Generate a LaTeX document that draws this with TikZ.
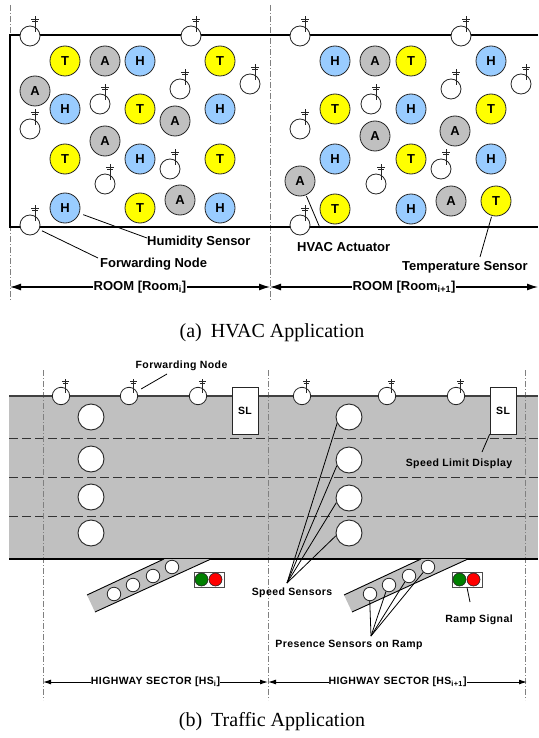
\documentclass[tikz,border=0pt]{standalone}
\usepackage{fontspec}
\setmainfont{Liberation Sans}
\newfontfamily\capfont{Liberation Serif}
\newfontfamily\lblfont[LetterSpace=4]{Liberation Sans}
\usetikzlibrary{arrows.meta,calc}
\definecolor{tyel}{HTML}{FFFF00}
\definecolor{hblue}{HTML}{99CCFF}
\definecolor{agray}{HTML}{C0C0C0}
\definecolor{road}{HTML}{C0C0C0}
\definecolor{sgreen}{HTML}{008000}
\definecolor{sred}{HTML}{FF0000}
\newcommand\fwdn[4]{%
  \node[fwdc, minimum size={20pt*#4}] (#1) at (#2,#3) {};
  \draw[ant] ([shift={({5*#4},{-4*#4})}]#1.center) -- ++(0,{-16*#4});
  \draw[ant] ([shift={({1*#4},{-17*#4})}]#1.center) -- ++({8*#4},0);
  \draw[ant] ([shift={({2*#4},{-14.5*#4})}]#1.center) -- ++({6*#4},0);
}
\begin{document}
\begin{tikzpicture}[x=1pt,y=-1pt,
  sensor/.style={circle, draw=black!85, line width=0.8pt, minimum size=30pt, inner sep=0pt, font={\bfseries\fontsize{13}{13}\selectfont}},
  tsens/.style={sensor, fill=tyel},
  hsens/.style={sensor, fill=hblue},
  asens/.style={sensor, fill=agray},
  fwdc/.style={circle, draw=black!85, fill=white, line width=0.8pt, inner sep=0pt},
  ant/.style={line width=0.8pt, black!85},
  sectline/.style={dash pattern=on 6pt off 2pt on 1pt off 2pt, gray, line width=0.7pt},
  lbl/.style={font={\bfseries\fontsize{13}{13}\selectfont}, inner sep=0pt, anchor=west},
  tlbl/.style={font={\lblfont\bfseries\fontsize{10.5}{10.5}\selectfont}, inner sep=0pt},
  lead/.style={line width=0.8pt},
  dimarrow/.style={line width=1.2pt, {Latex[length=11pt,width=7pt]}-{Latex[length=11pt,width=7pt]}},
  dimarrowb/.style={line width=1pt, {Latex[length=8pt,width=5pt]}-{Latex[length=8pt,width=5pt]}},
  lanedash/.style={dash pattern=on 9pt off 4pt, line width=0.8pt, black!80},
  ssens/.style={circle, draw=black!85, fill=white, line width=0.9pt, minimum size=26pt, inner sep=0pt},
  rsens/.style={circle, draw=black!85, fill=white, line width=0.8pt, minimum size=13.5pt, inner sep=0pt},
  slbox/.style={draw=black!85, fill=white, line width=0.8pt, minimum width=26pt, minimum height=47pt, inner sep=0pt, font={\lblfont\bfseries\fontsize{10.5}{10.5}\selectfont}},
  sigbox/.style={draw=black!70, fill=white, line width=0.8pt, minimum width=30pt, minimum height=15pt, inner sep=0pt},
  light/.style={circle, draw=black!85, line width=0.6pt, minimum size=13pt, inner sep=0pt},
  ramp/.style={fill=road},
  rampedge/.style={line width=0.9pt, black}
]
\useasboundingbox (0,0) rectangle (538,738);

% ================= HVAC =================
\coordinate (vl1) at (10,5); \coordinate (vl1b) at (10,300);
\coordinate (vl2) at (270,5); \coordinate (vl2b) at (270,300);
\draw[sectline] (vl1) -- (vl1b);
\draw[sectline] (vl2) -- (vl2b);
\coordinate (rTR) at (538,35); \coordinate (rTL) at (10,35);
\coordinate (rBL) at (10,227); \coordinate (rBR) at (538,227);
\draw[line width=1.2pt] (rTR) -- (rTL) -- (rBL) -- (rBR);

% left room
\fwdn{fa1}{30}{36}{1}
\fwdn{fa2}{191}{36}{1}
\node[tsens] (la1) at (65,61) {T};
\node[asens] (la2) at (105,61) {A};
\node[hsens] (la3) at (140,61) {H};
\node[tsens] (la4) at (220,61) {T};
\node[asens] (la5) at (35,91) {A};
\fwdn{fa3}{180}{89}{1}
\fwdn{fa4}{250}{84}{1}
\node[hsens] (la6) at (65,109) {H};
\fwdn{fa5}{100}{104}{1}
\node[tsens] (la7) at (140,109) {T};
\node[asens] (la8) at (175,121) {A};
\node[hsens] (la9) at (220,109) {H};
\fwdn{fa6}{30}{129}{1}
\node[asens] (la10) at (105,141) {A};
\node[tsens] (la11) at (65,159) {T};
\node[hsens] (la12) at (140,159) {H};
\fwdn{fa7}{170}{169}{1}
\node[tsens] (la13) at (220,159) {T};
\fwdn{fa8}{105}{184}{1}
\node[hsens] (la14) at (65,208) {H};
\node[tsens] (la15) at (140,208) {T};
\node[asens] (la16) at (180,200) {A};
\node[hsens] (la17) at (220,208) {H};
\fwdn{fa9}{30}{225}{1}

% right room
\fwdn{fb1}{300}{36}{1}
\fwdn{fb2}{461}{36}{1}
\node[hsens] (lb1) at (335,61) {H};
\node[asens] (lb2) at (375,61) {A};
\node[tsens] (lb3) at (411,61) {T};
\node[hsens] (lb4) at (491,61) {H};
\fwdn{fb3}{451}{89}{1}
\fwdn{fb4}{521}{84}{1}
\node[tsens] (lb5) at (335,109) {T};
\fwdn{fb5}{371}{104}{1}
\node[hsens] (lb6) at (411,109) {H};
\node[tsens] (lb7) at (491,109) {T};
\fwdn{fb6}{300}{129}{1}
\node[asens] (lb8) at (375,136) {A};
\node[asens] (lb9) at (455,131) {A};
\node[hsens] (lb10) at (335,159) {H};
\node[tsens] (lb11) at (411,159) {T};
\fwdn{fb7}{441}{169}{1}
\node[hsens] (lb12) at (491,159) {H};
\node[asens] (lb13) at (300,181) {A};
\fwdn{fb8}{376}{184}{1}
\node[tsens] (lb14) at (335,209) {T};
\node[hsens] (lb15) at (411,209) {H};
\node[asens] (lb16) at (451,201) {A};
\node[tsens] (lb17) at (496,201) {T};
\fwdn{fb9}{300}{225}{1}

% labels
\node[lbl] (tHum) at (147,242) {Humidity Sensor};
\coordinate (cHum) at (147,238);
\draw[lead, shorten <=4pt] (la14) -- (cHum);
\node[lbl] (tFwd) at (100,264) {Forwarding Node};
\coordinate (cFwd) at (98,258);
\draw[lead, shorten <=3pt] (fa9) -- (cFwd);
\node[lbl] (tAct) at (297,247) {HVAC Actuator};
\coordinate (cAct) at (320,228);
\draw[lead, shorten <=1pt] (lb13) -- (cAct);
\node[lbl] (tTmp) at (402,267) {Temperature Sensor};
\coordinate (cTmp) at (480,257);
\draw[lead, shorten <=1pt] (lb17) -- (cTmp);

% room arrows
\coordinate (ra1) at (10,287); \coordinate (ra2) at (270,287); \coordinate (ra3) at (538,287);
\draw[dimarrow] (ra1) -- node[fill=white, inner sep=1pt, font={\bfseries\fontsize{13}{13}\selectfont}] (tR1) {ROOM [Room\textsubscript{i}]} (ra2);
\draw[dimarrow] (ra2) -- node[fill=white, inner sep=1pt, font={\bfseries\fontsize{13}{13}\selectfont}] (tR2) {ROOM [Room\textsubscript{i+1}]} (ra3);

\node[font={\capfont\fontsize{20}{20}\selectfont}] (capA) at (272,333) {(a)\hspace{0.45em}HVAC Application};

% ================= TRAFFIC =================
\fill[road] (9,396) rectangle (538,559);
\foreach \yy/\nm in {438/d1,477/d2,516/d3} {
  \coordinate (\nm a) at (9,\yy); \coordinate (\nm b) at (538,\yy);
  \draw[lanedash] (\nm a) -- (\nm b);
}
\coordinate (hv1) at (43,370); \coordinate (hv1b) at (43,700);
\coordinate (hv2) at (268,370); \coordinate (hv2b) at (268,700);
\coordinate (hv3) at (525,370); \coordinate (hv3b) at (525,700);
\draw[sectline] (hv1) -- (hv1b);
\draw[sectline] (hv2) -- (hv2b);
\draw[sectline] (hv3) -- (hv3b);
\coordinate (rdTL) at (9,396); \coordinate (rdTR) at (538,396);
\coordinate (rdBL) at (9,559); \coordinate (rdBR) at (538,559);
\draw[line width=1.3pt, black!75] (rdTL) -- (rdTR);
\draw[line width=1.3pt] (rdBL) -- (rdBR);

% ramps
\coordinate (p1a) at (87,595); \coordinate (p1b) at (164,559);
\coordinate (p1c) at (211,559); \coordinate (p1d) at (95,612);
\fill[ramp] (p1a) -- (p1b) -- (p1c) -- (p1d) -- cycle;
\draw[rampedge] (p1a) -- (p1b);
\draw[rampedge] (p1d) -- (p1c);
\coordinate (p2a) at (344,595); \coordinate (p2b) at (421,559);
\coordinate (p2c) at (468,559); \coordinate (p2d) at (352,612);
\fill[ramp] (p2a) -- (p2b) -- (p2c) -- (p2d) -- cycle;
\draw[rampedge] (p2a) -- (p2b);
\draw[rampedge] (p2d) -- (p2c);

\node[rsens] (r1) at (114,594) {};
\node[rsens] (r2) at (133,585) {};
\node[rsens] (r3) at (153,576) {};
\node[rsens] (r4) at (172,567) {};
\node[rsens] (r5) at (370,594) {};
\node[rsens] (r6) at (389,585) {};
\node[rsens] (r7) at (409,576) {};
\node[rsens] (r8) at (428,567) {};

% forwarding nodes on highway
\fwdn{g1}{61}{396}{0.87}
\fwdn{g2}{129}{396}{0.87}
\fwdn{g3}{198}{396}{0.87}
\fwdn{g4}{302}{396}{0.87}
\fwdn{g5}{387}{396}{0.87}
\fwdn{g6}{456}{396}{0.87}

% SL displays
\node[slbox] (sl1) at (245,410.5) {SL};
\node[slbox] (sl2) at (503,410.5) {SL};

% speed sensors
\node[ssens] (s1) at (91,417) {};
\node[ssens] (s2) at (91,459) {};
\node[ssens] (s3) at (91,497) {};
\node[ssens] (s4) at (91,533) {};
\node[ssens] (s5) at (349,417) {};
\node[ssens] (s6) at (349,460) {};
\node[ssens] (s7) at (349,498) {};
\node[ssens] (s8) at (349,533) {};

% signals
\node[sigbox] (sig1) at (209,579.5) {};
\node[light, fill=sgreen] (gr1) at (201.5,579.5) {};
\node[light, fill=sred] (rd1) at (215.5,579.5) {};
\node[sigbox] (sig2) at (467,579.5) {};
\node[light, fill=sgreen] (gr2) at (459.5,579.5) {};
\node[light, fill=sred] (rd2) at (473.5,579.5) {};

% traffic labels
\node[tlbl] (tF2) at (181.5,366) {Forwarding Node};
\coordinate (cF2) at (167,374);
\draw[lead, shorten <=5pt] (g2) -- (cF2);
\node[tlbl] (tSL) at (459,464) {Speed Limit Display};
\coordinate (cSL) at (482,452);
\draw[lead] (sl2.south west) -- (cSL);
\node[tlbl] (tSS) at (292,593) {Speed Sensors};
\coordinate (cSS) at (287,583);
\draw[lead] (cSS) -- (s5.208);
\draw[lead] (cSS) -- (s6.205);
\draw[lead] (cSS) -- (s7.200);
\draw[lead] (cSS) -- (s8.192);
\node[tlbl] (tPS) at (349,645) {Presence Sensors on Ramp};
\coordinate (cPS) at (371,636);
\draw[lead] (cPS) -- (r5.268);
\draw[lead] (cPS) -- (r6.245);
\draw[lead] (cPS) -- (r7.235);
\draw[lead] (cPS) -- (r8.228);
\node[tlbl] (tRS) at (479,620) {Ramp Signal};
\coordinate (cRS) at (470,602);
\draw[lead] (sig2.south) -- (cRS);

% sector arrows
\coordinate (ha1) at (43,682); \coordinate (ha2) at (268,682); \coordinate (ha3) at (527,682);
\draw[dimarrowb] (ha1) -- node[fill=white, inner sep=1pt, tlbl] (tH1) {HIGHWAY SECTOR [HS\textsubscript{i}]} (ha2);
\draw[dimarrowb] (ha2) -- node[fill=white, inner sep=1pt, tlbl] (tH2) {HIGHWAY SECTOR [HS\textsubscript{i+1}]} (ha3);

\node[font={\capfont\fontsize{20}{20}\selectfont}] (capB) at (272,722) {(b)\hspace{0.45em}Traffic Application};
\end{tikzpicture}
\end{document}
